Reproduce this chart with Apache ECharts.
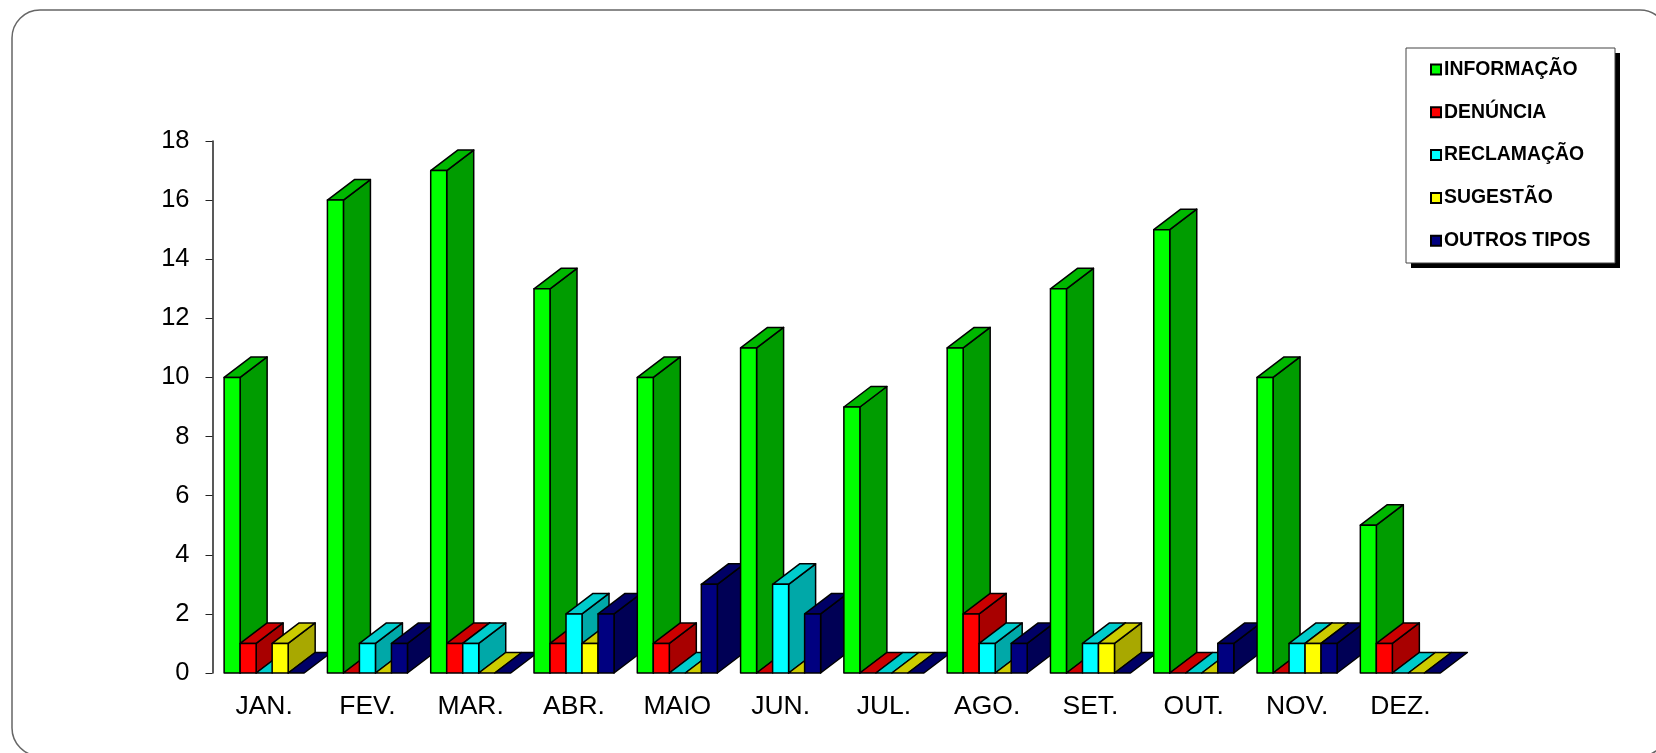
<!DOCTYPE html>
<html>
<head>
<meta charset="utf-8">
<title>Tipos de manifestação por mês</title>
<style>
  html, body { margin: 0; padding: 0; background: #fff; overflow: hidden; }
  #chart { width: 1656px; height: 753px; }
</style>
<script src="https://cdn.jsdelivr.net/npm/echarts@6/dist/echarts.min.js"></script>
</head>
<body>
<div id="chart"></div>
<script>
const months = ['JAN.', 'FEV.', 'MAR.', 'ABR.', 'MAIO', 'JUN.', 'JUL.', 'AGO.', 'SET.', 'OUT.', 'NOV.', 'DEZ.'];

const informacao = [10, 16, 17, 13, 10, 11, 9, 11, 13, 15, 10, 5];
const denuncia   = [1, 0, 1, 1, 1, 0, 0, 2, 0, 0, 0, 1];
const reclamacao = [0, 1, 1, 2, 0, 3, 0, 1, 1, 0, 1, 0];
const sugestao   = [1, 0, 0, 1, 0, 0, 0, 0, 1, 0, 1, 0];
const outros     = [0, 1, 0, 2, 3, 2, 0, 1, 0, 1, 1, 0];

const seriesNames = ['INFORMAÇÃO', 'DENÚNCIA', 'RECLAMAÇÃO', 'SUGESTÃO', 'OUTROS TIPOS'];
const seriesValues = [informacao, denuncia, reclamacao, sugestao, outros];

// Face colours of each extruded bar: front, top, side
const frontColors = ['#00ff00', '#ff0000', '#00ffff', '#ffff00', '#000080'];
const topColors   = ['#00b800', '#cc0000', '#00cccc', '#cccc00', '#000066'];
const sideColors  = ['#009c00', '#a80000', '#00a8a8', '#a8a800', '#000055'];

const FONT = '"Liberation Sans", Arial, sans-serif';
const BAR_SHARE = 0.155;     // bar width as a share of one month band
const DEPTH_X = 27;          // horizontal extrusion
const DEPTH_Y = 20.5;        // vertical extrusion

// Draws one pseudo-3D bar as three polygons; later months sit in front of earlier ones
function renderBar(seriesIndex) {
  return function (params, api) {
    const month = api.value(0);
    const base = api.coord([month, 0]);
    const top = api.coord([month, api.value(1)]);
    const band = api.size([1, 0])[0];
    const w = band * BAR_SHARE;
    const x0 = base[0] - w * 2.5 + seriesIndex * w;
    const x1 = x0 + w;
    const yb = base[1];
    const yt = top[1];
    const z2 = month * 10 + seriesIndex;
    const edge = { stroke: '#000', lineWidth: 1.5, lineJoin: 'round' };
    const children = [];
    if (yb - yt > 0) {
      children.push({
        type: 'polygon', z2: z2,
        shape: { points: [[x1, yt], [x1 + DEPTH_X, yt - DEPTH_Y], [x1 + DEPTH_X, yb - DEPTH_Y], [x1, yb]] },
        style: Object.assign({ fill: sideColors[seriesIndex] }, edge)
      });
    }
    children.push({
      type: 'polygon', z2: z2,
      shape: { points: [[x0, yt], [x0 + DEPTH_X, yt - DEPTH_Y], [x1 + DEPTH_X, yt - DEPTH_Y], [x1, yt]] },
      style: Object.assign({ fill: topColors[seriesIndex] }, edge)
    });
    if (yb - yt > 0) {
      children.push({
        type: 'rect', z2: z2,
        shape: { x: x0, y: yt, width: w, height: yb - yt },
        style: Object.assign({ fill: frontColors[seriesIndex] }, edge)
      });
    }
    return { type: 'group', children: children };
  };
}

const chart = echarts.init(document.getElementById('chart'), null, { renderer: 'canvas' });

chart.setOption({
  animation: false,
  backgroundColor: '#ffffff',
  graphic: [{
    type: 'rect',
    silent: true,
    z: -1,
    shape: { x: 12, y: 10, width: 1656, height: 746, r: 28 },
    style: { fill: '#ffffff', stroke: '#666666', lineWidth: 1.5 }
  }, {
    // legend frame and its hard drop shadow
    type: 'rect',
    silent: true,
    z: 1,
    shape: { x: 1411, y: 53, width: 209, height: 215 },
    style: { fill: '#000000' }
  }, {
    type: 'rect',
    silent: true,
    z: 2,
    shape: { x: 1406, y: 48, width: 209, height: 215 },
    style: { fill: '#ffffff', stroke: '#444444', lineWidth: 1 }
  }],
  grid: { left: 212.5, top: 141, width: 1239.5, height: 532, containLabel: false },
  legend: {
    left: 1406,
    top: 48,
    orient: 'vertical',
    selectedMode: false,
    padding: [10, 24, 12, 24],
    itemWidth: 10,
    itemHeight: 10,
    itemGap: 19.8,
    icon: 'rect',
    textStyle: {
      fontFamily: FONT, fontWeight: 'bold', fontSize: 19.4, color: '#000', lineHeight: 20,
      padding: [3, 0, 0, -2]
    },
    data: seriesNames.map((name, i) => ({
      name: name,
      itemStyle: { color: frontColors[i], borderColor: '#000', borderWidth: 2 }
    }))
  },
  xAxis: {
    type: 'category',
    data: months,
    axisLine: { show: false },
    axisTick: { show: false },
    axisLabel: { fontFamily: FONT, fontSize: 26.5, color: '#000', margin: 20, interval: 0 }
  },
  yAxis: {
    type: 'value',
    min: 0,
    max: 18,
    interval: 2,
    splitLine: { show: false },
    axisLine: { show: true, lineStyle: { color: '#222', width: 1.5 } },
    axisTick: { show: true, length: 7, lineStyle: { color: '#222', width: 1 } },
    axisLabel: { fontFamily: FONT, fontSize: 25.5, color: '#000', margin: 23 }
  },
  series: seriesNames.map((name, i) => ({
    name: name,
    type: 'custom',
    clip: false,
    silent: true,
    itemStyle: { color: frontColors[i] },
    encode: { x: 0, y: 1 },
    data: seriesValues[i].map((v, m) => [m, v]),
    renderItem: renderBar(i)
  }))
});
</script>
</body>
</html>
